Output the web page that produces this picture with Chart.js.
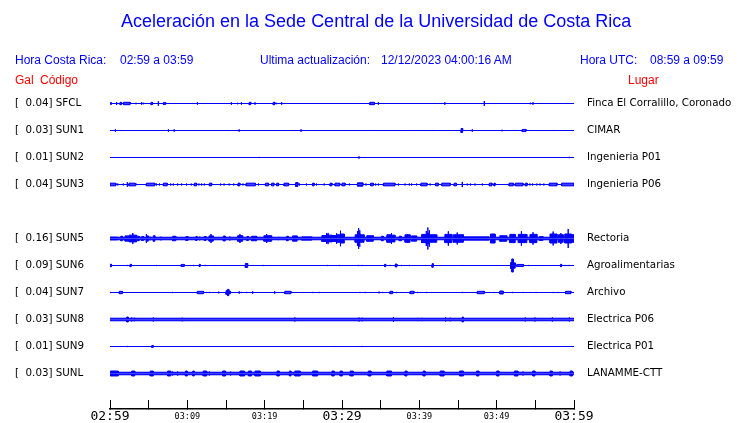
<!DOCTYPE html>
<html><head><meta charset="utf-8">
<script src="https://cdn.jsdelivr.net/npm/chart.js@4.4.1/dist/chart.umd.min.js"></script>
<style>
html,body{margin:0;padding:0;background:#fff;}
#wrap{position:relative;width:740px;height:423px;overflow:hidden;background:#fff;}
canvas{position:absolute;left:0;top:0;}
.t{position:absolute;white-space:pre;font-family:"Liberation Sans",Arial,Helvetica,sans-serif;font-size:12px;line-height:14px;color:#0000ff;}
.r{color:#ff0000;}
</style></head><body>
<div id="wrap">
<canvas id="c" width="740" height="423"></canvas>
<div class="t" style="left:121px;top:11px;font-size:18px;line-height:20px">Aceleración en la Sede Central de la Universidad de Costa Rica</div>
<div class="t" style="left:15px;top:53px">Hora Costa Rica:</div>
<div class="t" style="left:120px;top:53px">02:59 a 03:59</div>
<div class="t" style="left:260px;top:53px">Ultima actualización:</div>
<div class="t" style="left:381px;top:53px">12/12/2023 04:00:16 AM</div>
<div class="t" style="left:580px;top:53px">Hora UTC:</div>
<div class="t" style="left:650px;top:53px">08:59 a 09:59</div>
<div class="t r" style="left:15px;top:73px">Gal</div>
<div class="t r" style="left:40px;top:73px">Código</div>
<div class="t r" style="left:628px;top:73px">Lugar</div>
</div>
<script>
// ---- data ----
const codes = ['SFCL','SUN1','SUN2','SUN3','SUN5','SUN6','SUN7','SUN8','SUN9','SUNL'];
const places = ['Finca El Corralillo, Coronado','CIMAR','Ingenieria P01','Ingenieria P06','Rectoria','Agroalimentarias','Archivo','Electrica P06','Electrica P01','LANAMME-CTT'];
const peakGal = [0.04,0.03,0.01,0.04,0.16,0.09,0.04,0.03,0.01,0.03];
const rowIndex = [0,1,2,3,5,6,7,8,9,10];
const noiseGal = [0,0,0,0,0.017,0,0,0.017,0,0.017];
const tickMinutes = [0,5,10,15,20,25,30,35,40,45,50,55,60];
const tickLabels = ['02:59','','03:09','','03:19','','03:29','','03:39','','03:49','','03:59'];

// events: [start minute, end minute, amplitude Gal]
const evSFCL = [[0.13,0.13,.02],[0.86,0.86,.02],[1.3,1.5,.016],[1.75,2.6,.016],[3.36,3.36,.01],[4.1,4.1,.016],[4.35,4.35,.01],[5.3,5.5,.016],[6.25,6.25,.03],[6.9,7.2,.012],[11.3,11.3,.016],[15.7,15.7,.016],[16.5,16.5,.01],[17.0,17.0,.016],[18.0,18.2,.016],[18.75,18.75,.016],[21.1,21.3,.016],[21.5,21.5,.01],[22.2,22.2,.016],[23.8,23.8,.007],[25.5,25.5,.007],[27.45,27.45,.007],[32.2,32.2,.007],[32.6,32.6,.007],[33.6,34.2,.016],[34.7,34.7,.016],[38.4,38.4,.007],[43.3,43.3,.016],[45.6,45.6,.007],[48.4,48.4,.033],[54.35,54.35,.01],[54.7,54.7,.016]];
const evSUN1 = [[0.7,0.7,.016],[7.55,7.55,.016],[8.3,8.3,.016],[16.7,16.7,.016],[24.7,24.7,.016],[33.7,33.7,.007],[38.1,38.1,.007],[39.6,39.6,.007],[41.7,41.7,.007],[45.4,45.6,.027],[46.85,46.85,.016],[50.7,50.7,.01],[53.3,53.8,.014],[54.2,54.2,.007],[57.2,57.2,.007]];
const evSUN2 = [[19.3,19.3,.008],[32.1,32.3,.008],[45.6,45.6,.007],[59.4,59.4,.008]];
const evSUN3 = [[0.0,0.75,.018],[1.0,1.0,.013],[1.72,1.72,.013],[2.24,2.24,.03],[2.45,3.25,.018],[3.36,3.36,.013],[4.7,5.8,.018],[6.0,6.0,.013],[6.4,6.4,.013],[6.9,7.4,.018],[7.85,7.85,.013],[8.2,8.2,.013],[8.75,8.75,.013],[9.27,9.27,.013],[9.9,9.9,.013],[10.5,10.5,.013],[10.9,11.2,.018],[11.5,11.5,.013],[11.85,11.85,.013],[12.2,12.2,.013],[12.85,13.15,.018],[14.3,14.3,.013],[14.75,14.75,.013],[15.4,15.4,.013],[16.0,16.0,.013],[16.55,16.8,.018],[17.2,17.2,.013],[17.6,18.8,.018],[19.2,19.2,.013],[20.1,20.5,.018],[20.9,21.2,.018],[21.55,21.8,.018],[22.5,23.1,.018],[24.0,24.3,.025],[24.5,24.5,.013],[25.4,25.4,.013],[26.2,26.4,.018],[26.7,26.7,.013],[27.7,27.7,.013],[28.45,28.7,.018],[29.1,29.7,.018],[30.0,30.4,.018],[30.95,30.95,.013],[32.0,32.7,.022],[33.1,33.1,.013],[33.7,34.05,.018],[34.35,34.35,.013],[34.7,34.7,.013],[35.35,36.85,.018],[37.3,37.3,.013],[38.15,38.15,.013],[38.7,38.7,.013],[39.0,39.0,.013],[39.65,39.65,.013],[40.2,41.0,.018],[41.4,41.4,.013],[42.1,42.45,.018],[42.9,44.0,.018],[44.5,44.8,.018],[45.55,45.55,.035],[46.2,46.2,.013],[46.6,46.6,.013],[47.2,47.2,.013],[48.15,48.15,.013],[49.05,49.4,.018],[49.65,49.8,.018],[51.6,52.15,.018],[52.4,53.4,.018],[53.7,53.95,.018],[54.3,54.3,.013],[54.65,54.65,.013],[55.2,55.2,.013],[55.6,55.6,.013],[56.1,56.1,.013],[56.8,57.8,.018],[58.4,60,.018]];
const evSUN5 = [[0,1.0,.02],[1.38,1.6,.03],[1.94,2.37,.035],[2.46,2.95,.045],[2.95,2.95,.073],[2.95,3.45,.045],[3.58,3.79,.03],[4.1,4.35,.027],[4.7,4.7,.06],[4.7,4.95,.035],[5.17,5.17,.025],[5.6,5.8,.037],[6.6,6.6,.025],[8.1,8.5,.03],[9.8,10.1,.025],[11.1,11.25,.027],[11.6,11.6,.025],[12.2,12.4,.027],[12.8,13.06,.035],[13.06,13.06,.06],[13.06,13.36,.035],[14.65,14.9,.033],[15.5,15.5,.027],[16.5,16.8,.037],[16.8,16.8,.06],[16.8,17.15,.037],[17.7,17.9,.027],[18.3,18.97,.03],[19.9,20.26,.037],[20.26,20.26,.06],[20.26,20.9,.037],[21.8,21.8,.022],[22.85,23.05,.03],[23.6,24.2,.035],[24.8,26.1,.022],[27.4,28.0,.04],[28.0,28.0,.07],[28.0,28.2,.05],[28.2,28.2,.075],[28.2,28.7,.045],[28.7,29.3,.04],[29.3,29.3,.07],[29.3,29.8,.05],[29.8,29.8,.104],[29.8,30.3,.06],[31.7,32.0,.05],[32.0,32.0,.1],[32.0,32.15,.07],[32.15,32.15,.14],[32.15,32.3,.07],[32.3,32.3,.11],[32.3,32.85,.05],[33.2,34.05,.037],[35.1,35.35,.03],[35.8,36.4,.05],[36.4,36.4,.073],[36.4,36.85,.045],[37.4,37.7,.03],[38.15,38.5,.05],[38.5,38.5,.06],[38.5,38.8,.05],[39.0,39.65,.035],[40.3,40.9,.055],[40.9,40.9,.1],[40.9,41.1,.07],[41.1,41.1,.147],[41.1,41.3,.07],[41.3,41.3,.11],[41.3,42.25,.05],[43.3,43.75,.055],[43.75,43.75,.097],[43.75,44.2,.055],[44.4,44.9,.05],[44.9,44.9,.08],[44.9,45.7,.05],[45.7,49.0,.022],[49.2,49.8,.06],[50.4,51.3,.037],[51.7,52.4,.055],[52.8,53.2,.055],[53.2,53.2,.097],[53.2,53.9,.055],[54.3,54.7,.055],[54.7,54.7,.083],[54.7,55.2,.055],[55.5,56.0,.025],[56.9,57.3,.06],[57.3,57.3,.093],[57.3,57.8,.06],[58.0,58.3,.05],[58.3,58.3,.073],[58.3,58.6,.05],[58.8,59.25,.06],[59.25,59.25,.127],[59.25,59.7,.06],[59.7,60,.05]];
const evSUN6 = [[0.0,0.2,.016],[2.24,2.24,.008],[2.6,2.75,.016],[6.0,6.0,.008],[9.2,9.6,.014],[10.8,10.8,.008],[11.55,11.65,.016],[12.3,12.3,.008],[13.6,13.6,.007],[17.5,17.8,.027],[19.8,19.8,.008],[28.1,28.1,.008],[29.65,29.65,.008],[32.1,32.1,.008],[32.6,32.6,.008],[35.5,35.65,.016],[36.2,36.2,.008],[36.9,37.1,.02],[37.7,37.7,.008],[38.7,38.7,.008],[41.65,41.8,.024],[45.55,45.55,.007],[51.8,51.95,.04],[51.95,52.15,.087],[52.15,52.4,.035],[52.6,53.45,.014],[54.1,54.1,.008],[58.25,58.4,.016],[58.85,58.85,.008],[59.35,59.35,.008]];
const evSUN7 = [[0.04,0.04,.008],[1.2,1.6,.016],[8.1,8.1,.008],[11.3,12.1,.016],[12.5,12.5,.008],[12.85,12.85,.008],[14.05,14.05,.012],[15.0,15.2,.025],[15.2,15.35,.042],[15.35,15.55,.02],[16.7,16.7,.016],[17.0,17.0,.008],[17.7,17.7,.008],[18.45,18.45,.016],[21.3,21.3,.016],[22.6,23.4,.016],[26.2,26.2,.008],[27.05,27.05,.008],[32.3,32.3,.008],[33.0,33.0,.008],[34.8,34.8,.012],[35.25,35.25,.008],[36.2,36.55,.016],[37.05,37.05,.008],[38.8,39.3,.016],[39.75,39.75,.008],[40.95,40.95,.008],[45.55,45.55,.008],[47.5,48.4,.016],[49.65,49.65,.008],[50.4,50.85,.02],[52.05,52.05,.008],[53.4,53.4,.008],[55.1,55.1,.008],[57.3,57.3,.008],[57.95,57.95,.008],[58.9,59.6,.016]];
const evSUN8 = [[2.15,2.37,.033],[2.8,2.8,.027],[3.15,3.15,.024],[5.6,5.6,.027],[9.35,9.35,.024],[23.9,23.9,.027],[32.2,32.2,.027],[32.6,32.6,.024],[36.65,36.65,.03],[39.8,39.8,.022],[40.3,40.3,.022],[43.4,43.4,.027],[44.0,44.0,.024],[45.55,45.7,.033],[53.7,53.7,.027],[54.95,54.95,.027],[57.2,57.2,.027],[59.4,59.4,.027]];
const evSUN9 = [[0.86,0.86,.007],[2.24,2.24,.008],[5.4,5.6,.012],[9.9,9.9,.007],[29.1,29.1,.007],[29.65,29.65,.007],[32.2,32.2,.007],[32.6,32.6,.008],[33.7,33.7,.007],[40.25,40.25,.007],[41.0,41.0,.007],[45.55,45.55,.007],[51.85,51.85,.007],[52.5,52.5,.007],[53.45,53.45,.007],[54.9,54.9,.007]];
const evSUNL = [[0.04,1.07,.033],[2.8,3.2,.033],[5.2,5.6,.033],[7.45,7.85,.033],[8.1,8.1,.027],[8.75,8.75,.027],[9.75,10.0,.033],[10.7,10.9,.033],[12.05,12.5,.033],[12.85,12.85,.027],[14.55,14.95,.033],[15.6,15.6,.027],[16.8,17.4,.033],[17.9,18.3,.033],[18.75,19.45,.033],[21.6,21.9,.033],[23.2,23.4,.033],[23.9,24.6,.033],[26.2,26.85,.033],[28.7,29.0,.033],[29.75,30.05,.033],[31.05,31.45,.033],[33.4,33.75,.033],[35.8,36.4,.033],[38.15,38.4,.033],[40.5,40.75,.033],[42.7,43.2,.033],[45.2,45.7,.033],[47.4,47.7,.033],[50.0,50.3,.033],[52.3,52.75,.033],[53.4,53.4,.027],[54.65,54.95,.033],[56.9,57.2,.033],[58.2,58.2,.027],[59.5,59.8,.033]];
const stationEvents = [evSFCL,evSUN1,evSUN2,evSUN3,evSUN5,evSUN6,evSUN7,evSUN8,evSUN9,evSUNL];

// ---- build ----
const ROW_GAL = 0.36;        // vertical offset between traces (Gal)
const BLUE = '#0000ff';
const rowValue = i => -rowIndex[i] * ROW_GAL;

function envelope(events, center, noise, sign) {
  const pts = [{x: 0, y: center + sign * noise}];
  for (const [t0, t1, a] of events) {
    pts.push({x: t0, y: center + sign * noise}, {x: t0, y: center + sign * a},
             {x: t1, y: center + sign * a}, {x: t1, y: center + sign * noise});
  }
  pts.push({x: 60, y: center + sign * noise});
  return pts;
}

const datasets = [];
codes.forEach((code, i) => {
  const c = rowValue(i);
  [1, -1].forEach(sign => {
    datasets.push({
      label: code + (sign > 0 ? '+' : '-'),
      data: envelope(stationEvents[i], c, noiseGal[i], sign),
      borderColor: BLUE, backgroundColor: BLUE, borderWidth: 1,
      pointRadius: 0, pointHoverRadius: 0, tension: 0, fill: {value: c}, yAxisID: 'y'
    });
  });
});

const leftLabels = codes.map((c, i) => '[  ' + peakGal[i].toFixed(2) + '] ' + c);
const rowTicks = scale => { scale.ticks = rowIndex.map(r => ({value: -r * ROW_GAL})); };
const YMIN = -4.07333, YMAX = 0.18;

new Chart(document.getElementById('c'), {
  type: 'line',
  data: {datasets},
  options: {
    responsive: false, animation: false, devicePixelRatio: 1,
    layout: {autoPadding: false, padding: {left: 15, top: 90, right: 0, bottom: 0}},
    plugins: {legend: {display: false}, tooltip: {enabled: false}},
    scales: {
      x: {
        type: 'linear', min: 0, max: 60, position: 'bottom',
        afterBuildTicks: s => { s.ticks = tickMinutes.map(v => ({value: v})); },
        afterFit: s => { s.height = 14; },
        grid: {drawOnChartArea: false, drawTicks: true, tickLength: -9, color: '#000', tickWidth: 1},
        border: {display: true, color: '#000', width: 1.5},
        ticks: {
          autoSkip: false, maxRotation: 0, minRotation: 0, color: '#000', padding: 9,
          crossAlign: 'near',
          callback: (v, idx) => tickLabels[idx],
          font: ctx => ({family: 'DejaVu Sans Mono', lineHeight: '16px', size: (ctx.index % 6 === 0) ? 13 : 8.5})
        }
      },
      y: {
        type: 'linear', position: 'left', min: YMIN, max: YMAX,
        afterBuildTicks: rowTicks,
        afterFit: s => { s.width = 95; s.paddingTop = 0; s.paddingBottom = 0; },
        grid: {display: false}, border: {display: false},
        ticks: {autoSkip: false, crossAlign: 'far', color: '#000', padding: 0,
          font: {family: 'DejaVu Sans', size: 10.3},
          callback: (v, idx) => leftLabels[idx]}
      },
      y2: {
        type: 'linear', position: 'right', min: YMIN, max: YMAX,
        afterBuildTicks: rowTicks,
        afterFit: s => { s.width = 166; s.paddingTop = 0; s.paddingBottom = 0; },
        grid: {display: false, drawTicks: false}, border: {display: false},
        ticks: {autoSkip: false, crossAlign: 'near', color: '#000', padding: 13,
          font: {family: 'DejaVu Sans', size: 10.3},
          callback: (v, idx) => places[idx]}
      }
    }
  }
});
</script>
</body></html>
